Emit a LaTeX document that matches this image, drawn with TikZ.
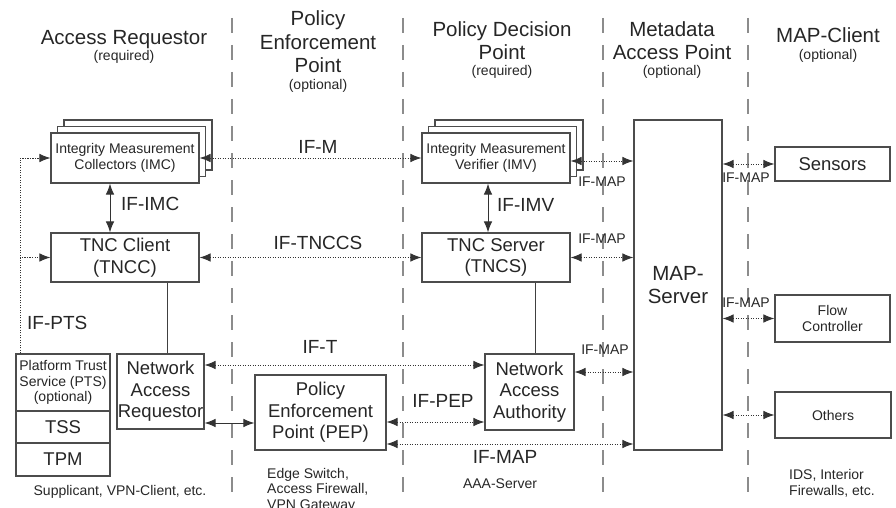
\documentclass[tikz,border=0pt]{standalone}
\usepackage{fontspec}
\setmainfont{Liberation Sans}
\usetikzlibrary{arrows.meta}
\newcommand{\headfont}{\fontsize{20.5}{23.5}\selectfont}
\newcommand{\subfont}{\fontsize{14}{15.5}\selectfont}
\newcommand{\boxfont}{\fontsize{18.5}{21.5}\selectfont}
\newcommand{\labfont}{\fontsize{19}{21}\selectfont}

\begin{document}
\begin{tikzpicture}[x=1pt,y=-1pt,
  box/.style={draw=black!70,line width=1.1pt,fill=white,inner sep=0pt,align=center,font=\boxfont,text=black!85},
  smallbox/.style={box,font=\subfont},
  txt/.style={inner sep=0pt,align=center,text=black!85},
  sep/.style={draw=black!45,line width=1.3pt,dash pattern=on 15pt off 12pt},
  dotline/.style={draw=black!80,line width=0.9pt,dash pattern=on 1.2pt off 1.3pt},
  dotarr/.style={dotline,{Latex[length=11pt,width=8.5pt]}-{Latex[length=11pt,width=8.5pt]}},
  solarr/.style={draw=black!80,line width=1pt,{Latex[length=11pt,width=8.5pt]}-{Latex[length=11pt,width=8.5pt]}},
  link/.style={draw=black!75,line width=1pt}]

\useasboundingbox (0,0) rectangle (896,508);

% column separators
\foreach \x in {232,403,603,748}
  \draw[sep] (\x,18) -- (\x,500);

% headings
\node[txt,font=\headfont,anchor=base] (arhead) at (124,45) {Access Requestor};
\node[txt,font=\subfont,anchor=base] (arsub) at (124,61) {(required)};
\node[txt,font=\headfont,anchor=base] (pephead) at (318,73) {Policy\\Enforcement\\Point};
\node[txt,font=\subfont,anchor=base] (pepsub) at (318,90) {(optional)};
\node[txt,font=\headfont,anchor=base] (pdphead) at (502,60) {Policy Decision\\Point};
\node[txt,font=\subfont,anchor=base] (pdpsub) at (502,76) {(required)};
\node[txt,font=\headfont,anchor=base] (maphead) at (672,60) {Metadata\\Access Point};
\node[txt,font=\subfont,anchor=base] (mapsub) at (672,76) {(optional)};
\node[txt,font=\headfont,anchor=base] (mchead) at (828,43) {MAP-Client};
\node[txt,font=\subfont,anchor=base] (mcsub) at (828,60) {(optional)};

% access requestor
\node[smallbox,minimum width=148pt,minimum height=50pt] (imcc) at (138,145) {};
\node[smallbox,minimum width=148pt,minimum height=50pt] (imcb) at (131.5,151.5) {};
\node[smallbox,minimum width=148pt,minimum height=50pt] (imc) at (125,158) {Integrity Measurement\\Collectors (IMC)};
\node[box,minimum width=148pt,minimum height=49pt] (tncc) at (125,257.5) {TNC Client\\(TNCC)};
\node[smallbox,minimum width=94pt,minimum height=57pt] (pts) at (63,382.5) {Platform Trust\\Service (PTS)\\(optional)};
\node[box,minimum width=94pt,minimum height=32pt] (tss) at (63,427) {TSS};
\node[box,minimum width=94pt,minimum height=33pt] (tpm) at (63,459.5) {TPM};
\node[box,minimum width=87pt,minimum height=75pt] (nar) at (160.5,391.5) {Network\\Access\\Requestor};

% policy enforcement point
\node[box,minimum width=131pt,minimum height=75pt] (pep) at (320.5,412.5) {Policy\\Enforcement\\Point (PEP)};

% policy decision point
\node[smallbox,minimum width=148pt,minimum height=50pt] (imvc) at (509,145) {};
\node[smallbox,minimum width=148pt,minimum height=50pt] (imvb) at (502.5,151.5) {};
\node[smallbox,minimum width=148pt,minimum height=50pt] (imv) at (496,158) {Integrity Measurement\\Verifier (IMV)};
\node[box,minimum width=148pt,minimum height=49pt] (tncs) at (496,257.5) {TNC Server\\(TNCS)};
\node[box,minimum width=89pt,minimum height=76pt] (naa) at (529.5,392) {Network\\Access\\Authority};

% metadata access point and clients
\node[box,font=\headfont,minimum width=88pt,minimum height=330pt] (map) at (678,285) {MAP-\\Server};
\node[box,minimum width=115pt,minimum height=34pt] (sensors) at (832.5,164) {Sensors};
\node[smallbox,minimum width=115pt,minimum height=47pt] (flow) at (832.5,318.5) {Flow\\Controller};
\node[smallbox,minimum width=116pt,minimum height=46pt] (others) at (833,415) {Others};

% connectors
\draw[dotarr] (imc.east) -- (imv.west);
\draw[solarr] ([xshift=-15pt]imc.south) -- ([xshift=-15pt]tncc.north);
\draw[dotarr] (tncc.east) -- (tncs.west);
\draw[solarr] ([xshift=-8pt]imv.south) -- ([xshift=-8pt]tncs.north);
\coordinate (ptscorner) at ([xshift=5pt]pts.north west);
\draw[dotline,-{Latex[length=11pt,width=8.5pt]}] (ptscorner) |- (imc.west);
\draw[dotline,-{Latex[length=11pt,width=8.5pt]}] (ptscorner) |- (tncc.west);
\draw[link] ([xshift=42pt]tncc.south) -- ([xshift=42pt]tncc.south |- nar.north);
\draw[link] ([xshift=39pt]tncs.south) -- ([xshift=39pt]tncs.south |- naa.north);
\draw[dotarr] ([yshift=26.5pt]nar.east) -- ([yshift=26.5pt]nar.east -| naa.west);
\draw[solarr] ([yshift=-31.5pt]nar.east) -- ([yshift=-31.5pt]nar.east -| pep.west);
\draw[dotarr] ([yshift=-9.5pt]pep.east) -- ([yshift=-9.5pt]pep.east -| naa.west);
\draw[dotarr] ([yshift=-31.5pt]pep.east) -- ([yshift=-31.5pt]pep.east -| map.west);
\draw[dotarr] ([yshift=-3pt]imv.east) -- ([yshift=-3pt]imv.east -| map.west);
\draw[dotarr] (tncs.east) -- (tncs.east -| map.west);
\draw[dotarr] ([yshift=20pt]naa.east) -- ([yshift=20pt]naa.east -| map.west);
\draw[dotarr] (sensors.west -| map.east) -- (sensors.west);
\draw[dotarr] (flow.west -| map.east) -- (flow.west);
\draw[dotarr] (others.west -| map.east) -- (others.west);

% interface labels
\node[txt,font=\labfont] (ifm) at (318,147) {IF-M};
\node[txt,font=\labfont,anchor=west] (ifimc) at (121,204) {IF-IMC};
\node[txt,font=\labfont] (iftnccs) at (318,243) {IF-TNCCS};
\node[txt,font=\labfont,anchor=west] (ifimv) at (497,205) {IF-IMV};
\node[txt,font=\labfont,anchor=west] (ifpts) at (27,323) {IF-PTS};
\node[txt,font=\labfont] (ift) at (320,347) {IF-T};
\node[txt,font=\labfont] (ifpep) at (443,401) {IF-PEP};
\node[txt,font=\labfont] (ifmappep) at (505,457) {IF-MAP};
\node[txt,font=\subfont] (ifmapimv) at (602,182) {IF-MAP};
\node[txt,font=\subfont] (ifmaptncs) at (602,239) {IF-MAP};
\node[txt,font=\subfont] (ifmapnaa) at (605,350) {IF-MAP};
\node[txt,font=\subfont] (ifmapsens) at (746,178) {IF-MAP};
\node[txt,font=\subfont] (ifmapflow) at (746,303) {IF-MAP};

% notes
\node[txt,font=\subfont] (arnote) at (120,492) {Supplicant, VPN-Client, etc.};
\node[txt,font=\subfont,align=left,anchor=base west] (pepnote) at (267,509) {Edge Switch,\\Access Firewall,\\VPN Gateway};
\node[txt,font=\subfont] (pdpnote) at (500,484) {AAA-Server};
\node[txt,font=\subfont,align=left,anchor=base west] (mcnote) at (789,495) {IDS, Interior\\Firewalls, etc.};
\end{tikzpicture}
\end{document}
